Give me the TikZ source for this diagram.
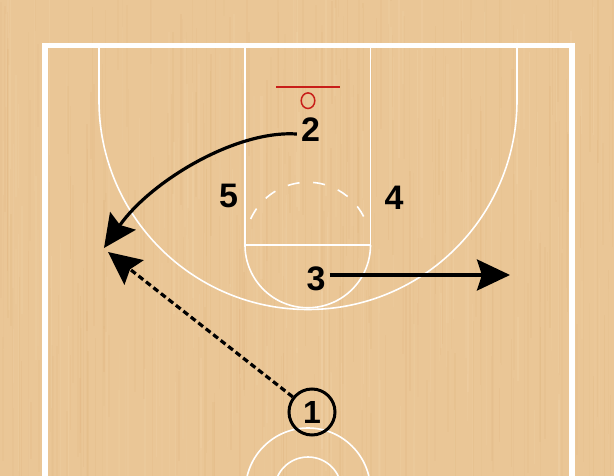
\documentclass[tikz,border=0pt]{standalone}
\usepackage{fontspec}
\setmainfont{Liberation Sans}
\usetikzlibrary{arrows.meta,calc}
\definecolor{wood}{RGB}{234,198,150}
\definecolor{wooddark}{RGB}{214,164,104}
\definecolor{woodlight}{RGB}{246,220,180}
\definecolor{rimred}{RGB}{200,30,25}
\tikzset{
  courtline/.style={white, line width=1.6pt},
  player/.style={font=\fontsize{34}{34}\selectfont\bfseries, inner sep=0pt},
  move/.style={line width=3.2pt, -{Stealth[length=33pt,width=31pt,inset=5pt]}},
  passline/.style={move, dash pattern=on 6pt off 3.5pt}
}
\begin{document}
\begin{tikzpicture}[x=1pt,y=-1pt]
\useasboundingbox (0,0) rectangle (614,476);
\clip (0,0) rectangle (614,476);
\fill[wood] (0,0) rectangle (614,476);
% wood grain
\pgfmathsetseed{7}
\foreach \i in {1,...,260}{
  \pgfmathsetmacro\xx{rnd*614}
  \pgfmathsetmacro\yy{rnd*476-60}
  \pgfmathsetmacro\ww{0.5+rnd*1.8}
  \pgfmathsetmacro\hh{40+rnd*260}
  \pgfmathsetmacro\op{0.04+rnd*0.09}
  \fill[wooddark, opacity=\op] (\xx,\yy) rectangle ++(\ww,\hh);
}
\foreach \i in {1,...,180}{
  \pgfmathsetmacro\xx{rnd*614}
  \pgfmathsetmacro\yy{rnd*476-60}
  \pgfmathsetmacro\ww{0.5+rnd*1.8}
  \pgfmathsetmacro\hh{40+rnd*220}
  \pgfmathsetmacro\op{0.06+rnd*0.14}
  \fill[woodlight, opacity=\op] (\xx,\yy) rectangle ++(\ww,\hh);
}
% boundary
\draw[white, line width=5.5pt] (45,45.5) rectangle (572,520);
% lane
\draw[courtline] (245,48) -- (245,245) -- (370.5,245) -- (370.5,48);
% three point line
\draw[courtline] (99,48) -- (99,100.5) arc[start angle=180, end angle=0, radius=209] -- (517,48);
% free throw circle
\draw[courtline] (370.5,245) arc[start angle=0, end angle=180, radius=62.75];
\draw[courtline, dash pattern=on 12pt off 13.74pt]
  ($(307.75,245)+(204.5:62.75)$) arc[start angle=204.5, end angle=333, radius=62.75];
% center circles
\draw[courtline] (308,490.5) circle[radius=62.5];
\draw[courtline] (308,490.5) circle[radius=33.5];
% basket
\draw[rimred, line width=2pt] (276,87) -- (340,87);
\draw[rimred, line width=1.5pt] (308,100.7) ellipse[x radius=6.8, y radius=7.8];
% players
\node[player] (n2) at (310.5,129.5) {2};
\node[player] (n5) at (228.5,196) {5};
\node[player] (n4) at (394,197.5) {4};
\node[player] (n3) at (316,278.5) {3};
\node[circle, draw, line width=3pt, minimum size=46pt, inner sep=0pt,
      font=\fontsize{32}{32}\selectfont\bfseries] (p1) at (312,412) {1};
% arrow end points
\coordinate (tipA) at (104,248);
\coordinate (tipB) at (108,252);
\coordinate (tipC) at (510,275);
% movements
\draw[move] ($(n2.west)+(-4,4.5)$) .. controls (235,130) and (150,182) .. (tipA);
\draw[passline] (p1) -- (tipB);
\draw[move] ([shift={(4,-3.5)}]n3.east) -- (tipC);
\end{tikzpicture}
\end{document}
